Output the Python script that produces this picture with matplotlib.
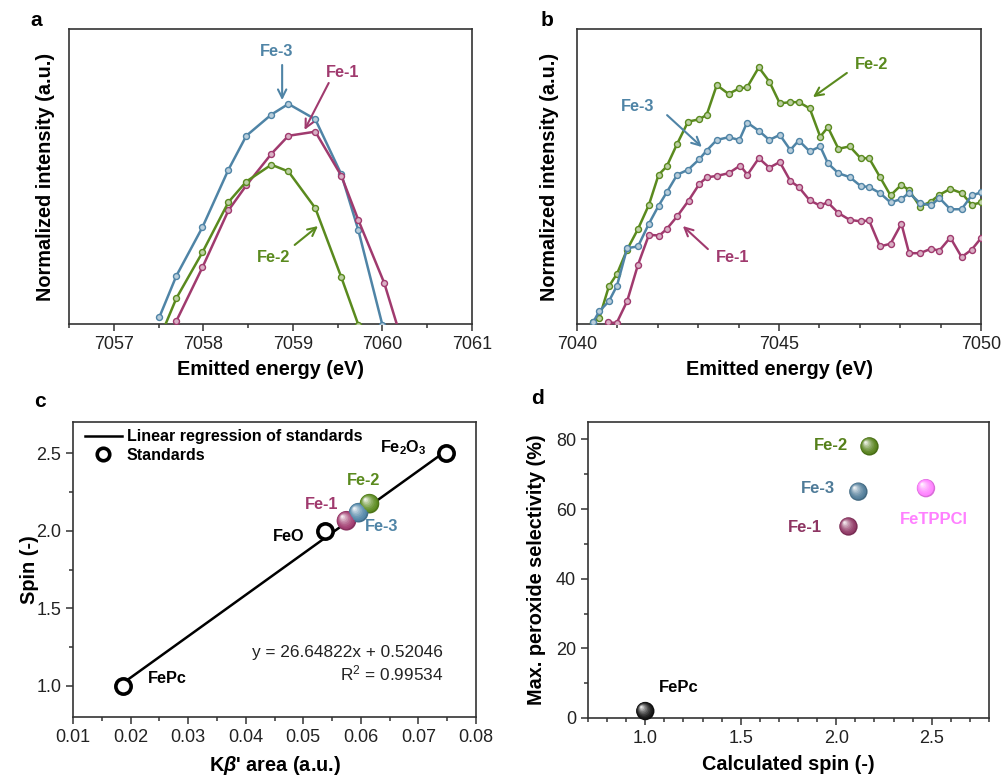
import matplotlib
matplotlib.use("Agg")
import matplotlib.pyplot as plt
import matplotlib.colors as mcolors
from matplotlib.transforms import offset_copy
from matplotlib.lines import Line2D
from matplotlib.ticker import MultipleLocator
import numpy as np

plt.rcParams['font.family'] = ['Liberation Sans', 'DejaVu Sans']
plt.rcParams['mathtext.fontset'] = 'custom'
plt.rcParams['mathtext.rm'] = 'Liberation Sans'
plt.rcParams['mathtext.it'] = 'Liberation Sans:italic:bold'
plt.rcParams['mathtext.bf'] = 'Liberation Sans:bold'

# ---------------- data ----------------
# panel a : K beta main line (normalized intensity, arbitrary units)
a_fe3_E = [7057.51, 7057.70, 7057.99, 7058.28, 7058.48, 7058.76, 7058.95, 7059.25, 7059.54, 7059.73, 7060.00]
a_fe3_I = [0.024, 0.164, 0.328, 0.523, 0.638, 0.710, 0.746, 0.694, 0.508, 0.319, -0.004]
a_fe1_E = [7057.70, 7057.99, 7058.28, 7058.48, 7058.76, 7058.95, 7059.25, 7059.54, 7059.73, 7060.02, 7060.22]
a_fe1_I = [0.011, 0.192, 0.385, 0.470, 0.577, 0.638, 0.652, 0.503, 0.353, 0.139, -0.06]
a_fe2_E = [7057.51, 7057.70, 7057.99, 7058.28, 7058.48, 7058.76, 7058.95, 7059.25, 7059.54, 7059.73]
a_fe2_I = [-0.05, 0.088, 0.243, 0.413, 0.483, 0.540, 0.517, 0.393, 0.159, -0.002]

# panel b : K beta satellite region
b_E = [7040.40, 7040.55, 7040.79, 7040.99, 7041.24, 7041.51, 7041.78, 7042.02, 7042.22, 7042.48,
       7042.75, 7043.03, 7043.21, 7043.46, 7043.75, 7044.02, 7044.21, 7044.50, 7044.76, 7045.02,
       7045.28, 7045.49, 7045.76, 7046.02, 7046.21, 7046.47, 7046.75, 7047.02, 7047.23, 7047.50,
       7047.76, 7048.03, 7048.22, 7048.49, 7048.76, 7048.97, 7049.24, 7049.52, 7049.77, 7050.00]
b_fe2_I = [0.006, 0.020, 0.128, 0.170, 0.252, 0.322, 0.404, 0.506, 0.534, 0.611,
           0.686, 0.694, 0.709, 0.810, 0.780, 0.799, 0.802, 0.870, 0.822, 0.748,
           0.752, 0.752, 0.731, 0.635, 0.667, 0.594, 0.602, 0.562, 0.562, 0.498,
           0.436, 0.472, 0.453, 0.398, 0.415, 0.438, 0.458, 0.444, 0.404, 0.412]
b_fe3_I = [0.006, 0.043, 0.077, 0.130, 0.257, 0.263, 0.340, 0.401, 0.446, 0.506,
           0.523, 0.559, 0.588, 0.624, 0.633, 0.624, 0.683, 0.655, 0.624, 0.641,
           0.590, 0.622, 0.585, 0.602, 0.545, 0.511, 0.498, 0.468, 0.464, 0.444,
           0.412, 0.424, 0.444, 0.410, 0.402, 0.427, 0.389, 0.389, 0.436, 0.446]
b_fe1_E = [7040.77, 7040.98, 7041.24, 7041.51, 7041.78, 7042.04, 7042.22, 7042.48, 7042.76, 7043.03,
           7043.21, 7043.46, 7043.75, 7044.04, 7044.22, 7044.50, 7044.76, 7045.02, 7045.28, 7045.49,
           7045.76, 7046.01, 7046.21, 7046.47, 7046.75, 7047.02, 7047.23, 7047.50, 7047.76, 7048.03,
           7048.22, 7048.49, 7048.76, 7048.97, 7049.24, 7049.52, 7049.77, 7050.00]
b_fe1_I = [0.006, 0.003, 0.077, 0.201, 0.302, 0.300, 0.322, 0.365, 0.418, 0.475,
           0.497, 0.502, 0.511, 0.537, 0.506, 0.562, 0.530, 0.549, 0.485, 0.464,
           0.419, 0.402, 0.412, 0.376, 0.353, 0.348, 0.351, 0.263, 0.272, 0.340,
           0.240, 0.240, 0.255, 0.249, 0.293, 0.227, 0.252, 0.291]

# panel c : spin vs K beta' area
std_names = ['FePc', 'FeO', 'Fe$_\\mathbf{2}$O$_\\mathbf{3}$']
std_area = [0.0186, 0.0537, 0.0748]
std_spin = [1.0, 2.0, 2.5]
fit_slope = 26.64822
fit_intercept = 0.52046
fit_r2 = 0.99534
fit_x_range = [0.0185, 0.0752]
sample_names = ['Fe-1', 'Fe-2', 'Fe-3']
sample_area = [0.0575, 0.0615, 0.0596]
sample_spin = [2.064, 2.174, 2.116]

# panel d : selectivity vs spin
d_names = ['FePc', 'Fe-1', 'Fe-2', 'Fe-3', 'FeTPPCl']
d_spin = [1.0, 2.064, 2.174, 2.116, 2.47]
d_selectivity = [2.0, 55.0, 78.0, 65.0, 66.0]

# ---------------- styles ----------------
C1 = '#A03A6E'   # Fe-1
C2 = '#5A8A1E'   # Fe-2
C3 = '#4F84A6'   # Fe-3
CPINK = '#FF80FF'
DARK = '#222222'

fig = plt.figure(figsize=(10.01, 7.79), dpi=100)
W, H = 1001, 779


def add_ax(l, t, r, b):
    return fig.add_axes([l / W, 1 - b / H, (r - l) / W, (b - t) / H])


axa = add_ax(69, 29, 472, 324)
axb = add_ax(577, 29, 981, 324)
axc = add_ax(73, 422, 476, 717)
axd = add_ax(588, 422, 989, 718)

for ax in (axa, axb, axc, axd):
    for sp in ax.spines.values():
        sp.set_linewidth(1.2)
        sp.set_color('#333333')
    ax.tick_params(which='both', direction='out', colors='#333333', labelcolor=DARK,
                   labelsize=13, width=1.1, top=False, right=False)
    ax.tick_params(which='major', length=5)
    ax.tick_params(which='minor', length=3)


def light(c, f=0.55):
    r = np.array(mcolors.to_rgb(c))
    return tuple(r + (1 - r) * f)


def spec(ax, x, y, c):
    ax.plot(x, y, '-', color=c, lw=1.8, marker='o', ms=4.3, mfc=light(c, 0.6),
            mec=c, mew=1.0, zorder=3)


def label_arrow(ax, text, tx, ty, x0, y0, x1, y1, c):
    ax.text(tx, ty, text, color=c, fontsize=11.7, fontweight='bold', ha='center', va='center')
    ax.annotate('', xy=(x1, y1), xytext=(x0, y0),
                arrowprops=dict(arrowstyle='->', color=c, lw=1.5, mutation_scale=15,
                                shrinkA=0, shrinkB=0))


# ---------------- panel a ----------------
spec(axa, a_fe3_E, a_fe3_I, C3)
spec(axa, a_fe1_E, a_fe1_I, C1)
spec(axa, a_fe2_E, a_fe2_I, C2)
axa.set_xlim(7056.5, 7061)
axa.set_ylim(0, 1)
axa.xaxis.set_major_locator(MultipleLocator(1))
axa.xaxis.set_minor_locator(MultipleLocator(0.5))
axa.set_yticks([])
axa.set_xlabel('Emitted energy (eV)', fontsize=14.3, fontweight='bold')
axa.set_ylabel('Normalized intensity (a.u.)', fontsize=14.3, fontweight='bold')
axa.xaxis.set_label_coords(0.5, -0.122)
axa.yaxis.set_label_coords(-0.035, 0.5)

label_arrow(axa, 'Fe-3', 7058.82, 0.925, 7058.88, 0.878, 7058.88, 0.759, C3)
label_arrow(axa, 'Fe-1', 7059.56, 0.854, 7059.40, 0.817, 7059.13, 0.658, C1)
label_arrow(axa, 'Fe-2', 7058.78, 0.227, 7059.02, 0.268, 7059.28, 0.332, C2)

# ---------------- panel b ----------------
spec(axb, b_E, b_fe2_I, C2)
spec(axb, b_E, b_fe3_I, C3)
spec(axb, b_fe1_E, b_fe1_I, C1)
axb.set_xlim(7040, 7050)
axb.set_ylim(0, 1)
axb.xaxis.set_major_locator(MultipleLocator(5))
axb.xaxis.set_minor_locator(MultipleLocator(1))
axb.set_yticks([])
axb.set_xlabel('Emitted energy (eV)', fontsize=14.3, fontweight='bold')
axb.set_ylabel('Normalized intensity (a.u.)', fontsize=14.3, fontweight='bold')
axb.xaxis.set_label_coords(0.5, -0.122)
axb.yaxis.set_label_coords(-0.045, 0.5)

label_arrow(axb, 'Fe-2', 7047.28, 0.878, 7046.68, 0.851, 7045.84, 0.769, C2)
label_arrow(axb, 'Fe-3', 7041.51, 0.736, 7042.23, 0.708, 7043.09, 0.600, C3)
label_arrow(axb, 'Fe-1', 7043.86, 0.227, 7043.24, 0.254, 7042.62, 0.332, C1)


# ---------------- spheres ----------------
def spheres(ax, xs, ys, colors, s=190, z=5):
    n = 9
    rad_pt = np.sqrt(s) / 2
    for k in range(n):
        f = k / (n - 1)
        size = s * (1 - 0.88 * f) ** 2
        off = offset_copy(ax.transData, fig=fig, x=-0.42 * rad_pt * f,
                          y=0.42 * rad_pt * f, units='points')
        cols = []
        for c in colors:
            base = np.array(mcolors.to_rgb(c))
            if k == 0:
                col = base * 0.85
            else:
                col = base + (1 - base) * (0.9 * f ** 1.6)
            cols.append(tuple(np.clip(col, 0, 1)))
        ax.scatter(xs, ys, s=size, c=cols, linewidths=0, transform=off,
                   zorder=z + 0.01 * k, clip_on=False)


# ---------------- panel c ----------------
fx = np.array(fit_x_range)
axc.plot(fx, fit_slope * fx + fit_intercept, color='black', lw=1.8, zorder=2)
axc.plot(std_area, std_spin, 'o', ms=11, mfc='white', mec='black', mew=2.6, zorder=4,
         clip_on=False)
spheres(axc, sample_area, sample_spin, [C1, C2, C3], s=200)
axc.set_xlim(0.01, 0.08)
axc.set_ylim(0.8, 2.7)
axc.xaxis.set_major_locator(MultipleLocator(0.01))
axc.xaxis.set_minor_locator(MultipleLocator(0.005))
axc.yaxis.set_major_locator(MultipleLocator(0.5))
axc.yaxis.set_minor_locator(MultipleLocator(0.25))
axc.xaxis.set_major_formatter(matplotlib.ticker.FormatStrFormatter('%.2f'))
axc.yaxis.set_major_formatter(matplotlib.ticker.FormatStrFormatter('%.1f'))
axc.set_xlabel("K$\\beta$' area (a.u.)", fontsize=14.3, fontweight='bold')
axc.set_ylabel('Spin (-)', fontsize=14.3, fontweight='bold')
axc.xaxis.set_label_coords(0.5, -0.125)
axc.yaxis.set_label_coords(-0.085, 0.5)

txt = dict(fontsize=11.7, fontweight='bold', va='center')
axc.text(0.0230, 1.048, std_names[0], ha='left', **txt)
axc.text(0.0475, 1.961, std_names[1], ha='center', **txt)
axc.text(0.0674, 2.534, std_names[2], ha='center', **txt)
axc.text(0.0532, 2.167, sample_names[0], ha='center', color=C1, **txt)
axc.text(0.0605, 2.322, sample_names[1], ha='center', color=C2, **txt)
axc.text(0.0636, 2.026, sample_names[2], ha='center', color=C3, **txt)
axc.text(0.0743, 1.215, 'y = %.5fx + %.5f' % (fit_slope, fit_intercept), ha='right',
         va='center', fontsize=12.4, color=DARK)
axc.text(0.0743, 1.080, 'R$^2$ = %.5f' % fit_r2, ha='right', va='center', fontsize=12.4,
         color=DARK)

handles = [Line2D([], [], color='black', lw=1.8),
           Line2D([], [], ls='none', marker='o', ms=9, mfc='white', mec='black', mew=2.6)]
axc.legend(handles, ['Linear regression of standards', 'Standards'], loc='upper left',
           bbox_to_anchor=(0.03, 0.975), frameon=False, borderpad=0, borderaxespad=0,
           handlelength=2.3, handletextpad=0.3, labelspacing=0.2,
           prop=dict(size=11.5, weight='bold'))

# ---------------- panel d ----------------
d_cols = ['#111111', '#8E3563', '#55801A', '#4F7B98', CPINK]
spheres(axd, d_spin, d_selectivity, d_cols, s=175)
axd.set_xlim(0.7, 2.8)
axd.set_ylim(0, 85)
axd.xaxis.set_major_locator(MultipleLocator(0.5))
axd.xaxis.set_minor_locator(MultipleLocator(0.1))
axd.yaxis.set_major_locator(MultipleLocator(20))
axd.yaxis.set_minor_locator(MultipleLocator(10))
axd.xaxis.set_major_formatter(matplotlib.ticker.FormatStrFormatter('%.1f'))
axd.set_xlabel('Calculated spin (-)', fontsize=14.3, fontweight='bold')
axd.set_ylabel('Max. peroxide selectivity (%)', fontsize=14.3, fontweight='bold')
axd.xaxis.set_label_coords(0.5, -0.125)
axd.yaxis.set_label_coords(-0.105, 0.5)

txtd = dict(fontsize=12, fontweight='bold', va='center')
axd.text(1.07, 8.9, d_names[0], ha='left', **txtd)
axd.text(1.927, 54.7, d_names[1], ha='right', color='#8E3563', **txtd)
axd.text(2.06, 78.3, d_names[2], ha='right', color='#55801A', **txtd)
axd.text(1.995, 65.9, d_names[3], ha='right', color='#4F7B98', **txtd)
axd.text(2.51, 57.0, d_names[4], ha='center', color=CPINK, **txtd)

# panel letters
for s_, x_, y_ in [('a', 36, 20), ('b', 547, 20), ('c', 40, 401), ('d', 538, 398)]:
    fig.text(x_ / W, 1 - y_ / H, s_, fontsize=15, fontweight='bold', ha='center', va='center')

fig.savefig('out.png', dpi=100)
